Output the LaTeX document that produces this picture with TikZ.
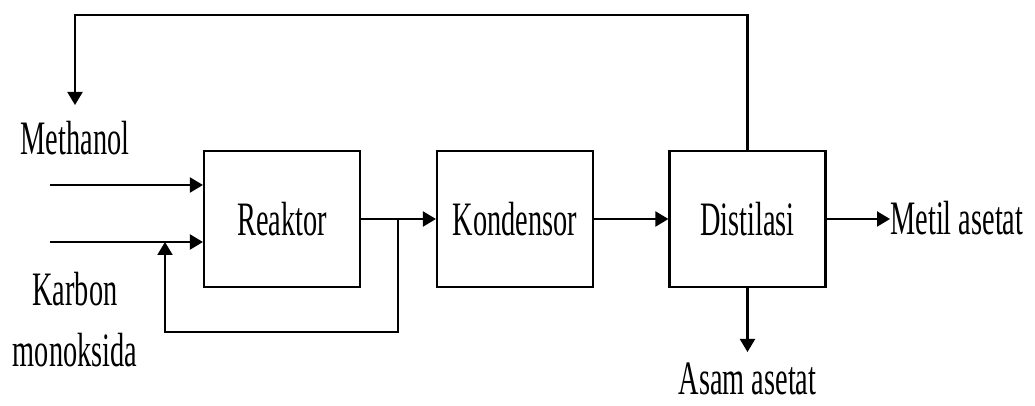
\documentclass[tikz,border=0pt]{standalone}
\usepackage{fontspec}
\setmainfont[FakeStretch=0.59]{Liberation Serif}
\usetikzlibrary{arrows.meta}
\begin{document}
\begin{tikzpicture}[x=0.5pt,y=-0.5pt,
  box/.style={draw,line width=1.1pt,minimum width=78pt,minimum height=68pt,inner sep=0pt,font=\fontsize{24}{30.5}\selectfont},
  lbl/.style={font=\fontsize{24}{30.5}\selectfont,inner sep=0pt},
  flow/.style={line width=1.1pt,-{Triangle[length=6.5pt,width=7.5pt]}},
  pipe/.style={line width=1.1pt}]
\useasboundingbox (0,0) rectangle (1035,406);
\node[box] (reak) at (282,219) {Reaktor};
\node[box] (kond) at (515,219) {Kondensor};
\node[box] (dist) at (747.5,219) {Distilasi};
\node[lbl,anchor=base] (meth) at (75,155) {Methanol};
\node[lbl,anchor=base,align=center] (karb) at (75,367) {Karbon\\monoksida};
\node[lbl,anchor=base west] (metil) at (890,235) {Metil asetat};
\node[lbl,anchor=base] (asam) at (747.5,395) {Asam asetat};
\coordinate (min) at (50,185);
\coordinate (kin) at (50,242);
\coordinate (mtop) at (75,105);
\coordinate (asamtip) at (747.5,352);
\coordinate (br) at (398,219);
\coordinate (rtip) at (165,242);
% inputs
\draw[flow] (min) -- (min -| reak.west);
\draw[flow] (kin) -- (kin -| reak.west);
% main line
\draw[flow] (reak.east) -- (kond.west);
\draw[flow] (kond.east) -- (dist.west);
\draw[flow] (dist.east) -- (dist.east -| metil.west);
\draw[flow] (dist.south) -- (asamtip);
% reactor recycle
\draw[flow] (br) -- (br |- 0,332) -- (rtip |- 0,332) -- (rtip);
% top recycle
\draw[flow] (dist.north) -- (dist.north |- 0,15) -- (mtop |- 0,15) -- (mtop);
\end{tikzpicture}
\end{document}
